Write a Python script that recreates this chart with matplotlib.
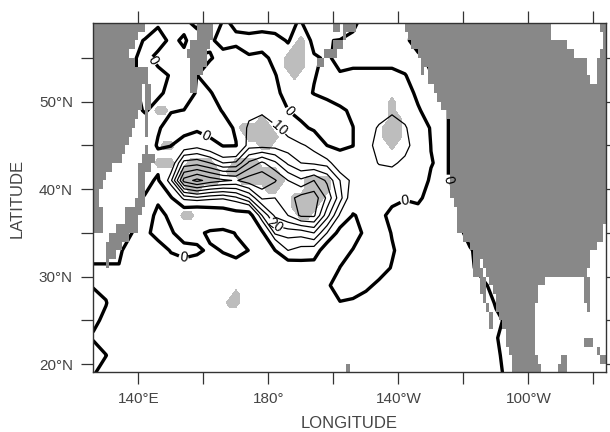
import numpy as np
import matplotlib
matplotlib.use("Agg")
import matplotlib.pyplot as plt
from matplotlib.colors import ListedColormap

plt.rcParams['font.family'] = ['Liberation Sans', 'DejaVu Sans']

# field, every 4 deg lon / 2 deg lat, from 59N down to 19N
lons = list(range(126, 290, 4))
lats = list(range(59, 17, -2))
field = [
    [2,2,2,2,2,1,3,2,-2,8,-1,1,3,3,3,1,-0.5,5,2,2,1,-2,-2,-2,-2,2,3,3,3,3,3,3,3,3,3,3,3,3,3,3,3],
    [2,2,2,1,-0.2,-3,1.5,-1,4,1,-2,-1,-2,-3,-2,0.5,-4,1.5,0.1,-0.1,-1,-3,-3,-3,-1,2,3,3,3,3,3,3,3,3,3,3,3,3,3,3,3],
    [2,2,2,1,-2,2,2,1.5,-1,-0.5,2,2,0.5,1.5,-1.5,-3,-4,-0.5,0.5,-1,-2,-2,-2,-2,-2,-1,1,3,3,3,3,3,3,3,3,3,3,3,3,3,3],
    [2,2,2,1,-2,-2,0.5,3,-0.1,3,3,3,3,4,0.3,-3,-3,-0.2,1,0.3,1.4,1.4,1.4,1.4,0.2,-2,-0.2,3,3,3,3,3,3,3,3,3,3,3,3,3,3],
    [2,2,2,2,-2,-1,1.5,3,-0.5,-0.5,3,3,3,5,2,-3,-1.5,0.2,1.5,3,4,4,4,4,2,-1,-2,-0.5,1,3,3,3,3,3,3,3,3,3,3,3,3],
    [2,2,2,2,-0.5,2,0.3,-0.1,-1,-3,0.5,4,7,9,6,0.1,-3,-3,-2.5,-1,1,4,6,9,6,0.5,-2,-1,2,3,3,3,3,3,3,3,3,3,3,3,3],
    [2,2,2,3,3,0.5,-2,-5,-2,-6,-3,1,12,13,11,8,2,-1.5,-3,-2,-0.1,6,11,13,11,4,-0.5,-1,2,3,3,3,3,3,3,3,3,3,3,3,3],
    [2,2,2,3,3,-0.5,-0.2,6,8,5,-0.5,-0.3,13,13,13,12,11,8,0,-1.5,-0.1,7,13,14,13,5,-0.1,-1,2,3,3,3,3,3,3,3,3,3,3,3,3],
    [2,2,2,3,3,2,5,22,23,20,15,16,26,31,26,19,15,14,13,4,3,6,10.5,11.5,8,4,0.2,-1,2,3,3,3,3,3,3,3,3,3,3,3,3],
    [2,2,2,3,2,-1,14,37,41.5,38,36,34.5,38,39,35.5,30,26,30,24,15,8,3,5,5,4,2,-0.5,-1,2,3,3,3,3,3,3,3,3,3,3,3,3],
    [2,2,2,2,-0.5,-1,-1,12,14,12,11,14,20,31,30,33,37,38,29,17,5,3,3,2,0.3,1,-2,-3,-1,3,3,3,3,3,3,3,3,3,3,3,3],
    [2,2,2,1,-3,1.5,-1,-10,-13,-10,-8,-5,-5,15,26,30,36,36,22,9,-0.5,2,2,-2,-2,-2,-3,-3,-1,3,3,3,3,3,3,3,3,3,3,3,3],
    [2,2,2,0,-1,1.5,0.5,-2,-2,1.5,2,-0.3,-3,-2,16,17,17,20,10,-4,-2,1,3,-0.3,-3,-3,-3,-3,-2,2,3,3,3,3,3,3,3,3,3,3,3],
    [1,1,1,-3,-3,-2,0.3,1.5,1,-1,0.3,1.5,-0.1,-6,-0.1,10,8,7,-8,-2,0.2,3,3,0.5,-2,-3,-3,-3,-3,-0.5,2,3,3,3,3,3,3,3,3,3,3],
    [-0.3,-0.3,-0.3,-2,-3,-3,-2,-2,-3,-3,-2,-2,-3,-5,-5,-8,-6,-6,-4,0.1,2,3,2,-0.3,-3,-3,-3,-3,-3,-1,2,3,3,3,3,3,3,3,3,3,3],
    [-0.5,-1,-2,-2,-3,-3,-3,-3,-3,-3,-3,-3,-3,-3,-3,-3,-3,-3,-1,3,1.5,1,-1,-3,-3,-3,-3,-3,-3,-3,-1,2,3,3,3,3,3,3,3,3,3],
    [3,0.2,-3,-3,-3,-3,-3,-3,-3,-3,-3,-3,-3,-3,-3,-3,-3,-3,-3,-0.3,-0.5,-2,-3,-3,-3,-3,-3,-3,-3,-3,-3,0.5,3,3,3,3,3,3,3,3,3],
    [1,-1,-3,-3,-3,-3,-3,-3,-3,-3,-3,-3,-3,-3,-3,-3,-3,-3,-3,-3,-3,-3,-3,-3,-3,-3,-3,-3,-3,-3,-3,-1,1,3,3,3,3,3,3,3,3],
    [-0.5,-2,-3,-3,-3,-3,-3,-3,-3,-3,-3,-3,-3,-3,-3,-3,-3,-3,-3,-3,-3,-3,-3,-3,-3,-3,-3,-3,-3,-3,-3,-0.3,2,3,3,3,3,3,3,3,3],
    [3,0.1,-3,-3,-3,-3,-3,-3,-3,-3,-3,-3,-3,-3,-3,-3,-3,-3,-3,-3,-3,-3,-3,-3,-3,-3,-3,-3,-3,-3,-3,-1,2,3,3,3,3,3,3,3,3],
    [0.5,-2,-3,-3,-3,-3,-3,-3,-3,-3,-3,-3,-3,-3,-3,-3,-3,-3,-3,-3,-3,-3,-3,-3,-3,-3,-3,-3,-3,-3,-3,-2,2,3,3,3,3,3,3,3,3],
]
plain_levels = [15, 25, 30, 35, 40]

# land: lon ranges for each 1 deg row, from 59N downwards
land_runs = [
    [(126,142),(158,163),(200,202),(203,207),(222,267),(282,284)],
    [(126,140),(158,163),(203,204),(223,267),(283,284)],
    [(126,139),(156,162),(200,203),(224,272),(283,284)],
    [(126,137),(155,161),(197,201),(226,274),(282,284)],
    [(126,139),(156,161),(195,197),(227,278),(281,284)],
    [(126,143),(156,160),(227,228),(229,278),(281,284)],
    [(126,143),(156,158),(229,279),(281,284)],
    [(126,141),(142,144),(156,158),(231,284)],
    [(126,141),(142,144),(232,284)],
    [(126,141),(142,144),(233,284)],
    [(126,140),(142,143),(235,284)],
    [(126,139),(142,143),(236,284)],
    [(126,138),(142,143),(236,284)],
    [(126,137),(236,284)],
    [(126,136),(142,143),(236,284)],
    [(126,135),(141,145),(236,284)],
    [(126,132),(140,144),(236,284)],
    [(126,130),(140,142),(236,284)],
    [(126,129),(140,142),(236,284)],
    [(126,128),(140,142),(236,284)],
    [(126,128),(139,142),(237,284)],
    [(126,129),(136,141),(238,284)],
    [(126,129),(136,140),(238,284)],
    [(126,129),(133,140),(238,283)],
    [(131,137),(240,283)],
    [(130,135),(242,281)],
    [(130,133),(243,279)],
    [(130,131),(243,245),(246,279)],
    [(243,246),(247,278)],
    [(245,247),(248,265),(277,279)],
    [(245,247),(249,263),(277,279)],
    [(246,247),(250,263),(277,279)],
    [(247,248),(250,262),(278,279)],
    [(248,249),(251,262)],
    [(248,249),(252,262)],
    [(253,262)],
    [(253,262),(277,280)],
    [(254,262),(281,282)],
    [(255,263),(270,272),(282,284)],
    [(204,205),(255,264),(269,272)],
]

# significant points (light grey), lat -> lons on the 2x1 deg grid
sig_points = [
    (57, [190]),
    (56, [188,190]),
    (55, [186,188,190]),
    (54, [186,188,190]),
    (53, [188]),
    (50, [218]),
    (49, [146,148,218]),
    (48, [178,218,220]),
    (47, [172,174,176,178,180,216,218,220]),
    (46, [174,176,178,180,182,216,218,220]),
    (45, [148,150,178,180,218]),
    (43, [146,148,150,156,158,160,162,170,172,174,176]),
    (42, [154,156,158,160,162,164,168,170,172,174,176,178,180,182]),
    (41, [154,156,158,160,162,164,172,174,176,178,180,182,184,192,194,196,198]),
    (40, [156,158,180,182,192,194,196,198]),
    (39, [188,190,192,194,196]),
    (38, [188,190,192,194]),
    (37, [154,156,190,192]),
    (28, [170]),
    (27, [168,170]),
]

xticks = [140, 160, 180, 200, 220, 240, 260, 280]
xticklabels = ['140°E', '', '180°', '', '140°W', '', '100°W', '']
yticks = [20, 25, 30, 35, 40, 45, 50, 55]
yticklabels = ['20°N', '', '30°N', '', '40°N', '', '50°N', '']

fig = plt.figure(figsize=(6.1, 4.32), dpi=100)
ax = fig.add_axes([93/610, 1 - 372/432, 513/610, 349/432])

# light grey patches
sig_lons = np.arange(126, 286, 2)
sig_lats = np.arange(59, 18, -1)
sig = np.zeros((len(sig_lats), len(sig_lons)))
for lat, row in sig_points:
    for lon in row:
        sig[59 - lat, (lon - 126) // 2] = 1
ax.contourf(sig_lons, sig_lats, sig, levels=[0.5, 1.5], colors=['#bdbdbd'], zorder=1)

# contours, labelled levels drawn on their own
cs0 = ax.contour(lons, lats, field, levels=[0], colors='black', linewidths=2.4, zorder=2)
cs10 = ax.contour(lons, lats, field, levels=[10], colors='black', linewidths=0.9, linestyles='solid', zorder=2)
cs20 = ax.contour(lons, lats, field, levels=[20], colors='black', linewidths=0.9, linestyles='solid', zorder=2)
ax.contour(lons, lats, field, levels=plain_levels, colors='black', linewidths=0.9, linestyles='solid', zorder=2)
ax.clabel(cs0, fmt='%d', fontsize=10, inline=True, inline_spacing=1,
          manual=[(143.8, 54.5), (186, 48.7), (160.5, 45.9), (154, 32.3), (222, 38.8), (234.2, 41.1)])
ax.clabel(cs10, fmt='%d', fontsize=10, inline=True, inline_spacing=1, manual=[(183.5, 47.1)])
ax.clabel(cs20, fmt='%d', fontsize=10, inline=True, inline_spacing=1, manual=[(181.4, 35.7)])
for t in cs0.labelTexts + cs10.labelTexts + cs20.labelTexts:
    t.set_zorder(5)

# land on top
land = np.zeros((40, 158))
for i, runs in enumerate(land_runs):
    for a, b in runs:
        land[i, a - 126:b - 126] = 1
land_lon = np.arange(126, 285)
land_lat = np.arange(59, 18, -1)
ax.pcolormesh(land_lon, land_lat, np.ma.masked_equal(land, 0),
              cmap=ListedColormap(['#888888']), zorder=3)

ax.set_xlim(126, 283.85)
ax.set_ylim(19.1, 59)
ax.set_xticks(xticks)
ax.set_xticklabels(xticklabels)
ax.set_yticks(yticks)
ax.set_yticklabels(yticklabels)
ax.tick_params(direction='out', length=8.5, width=0.9, color='#333333', top=True, right=True,
               labelsize=11, labelcolor='#444444', pad=6)
for s in ax.spines.values():
    s.set_linewidth(1.0)
    s.set_color('#333333')
    s.set_zorder(6)

fig.text(349/610, 1 - 423/432, 'LONGITUDE', ha='center', va='center', fontsize=12, color='#444444')
fig.text(17/610, 1 - 198/432, 'LATITUDE', ha='center', va='center', rotation=90, fontsize=12, color='#444444')

fig.savefig('out.png', dpi=100)
